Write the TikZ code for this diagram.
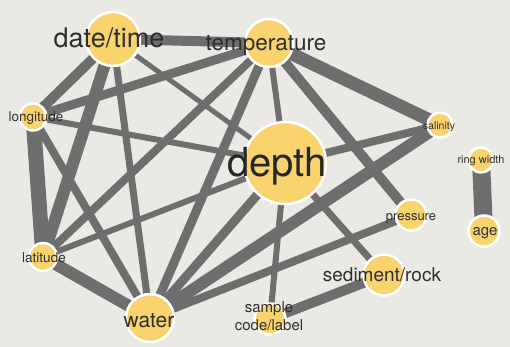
\documentclass[tikz,border=0pt]{standalone}
\usepackage{fontspec}
\setmainfont{TeX Gyre Heros}
\usetikzlibrary{backgrounds}
\definecolor{bg}{HTML}{EBE9E3}
\definecolor{edgec}{HTML}{6E6E6E}
\definecolor{nodec}{HTML}{F9D46E}
\definecolor{txt}{HTML}{2E2E2E}
\tikzset{
  vert/.style={circle, fill=nodec, draw=white, line width=2.5pt, inner sep=0pt, minimum size=#1},
  lab/.style={text=txt, inner sep=0pt, anchor=base, font=\fontsize{#1}{#1}\selectfont},
  link/.style={draw=edgec, line width=#1},
}
\begin{document}
\begin{tikzpicture}[x=1pt,y=-1pt]
\useasboundingbox (0,0) rectangle (510,347);
% circles
\node[vert=54] (dt) at (113,39) {};
\node[vert=48] (temp) at (269,43) {};
\node[vert=82] (depth) at (285,163) {};
\node[vert=27] (lon) at (33,117) {};
\node[vert=28] (lat) at (43,257) {};
\node[vert=48] (water) at (150,318) {};
\node[vert=25] (sal) at (440,125) {};
\node[vert=25] (ring) at (481,160) {};
\node[vert=31] (age) at (484,231) {};
\node[vert=31] (press) at (411,215) {};
\node[vert=41] (sed) at (384,275) {};
\node[vert=31] (sample) at (270,319) {};
% labels
\node[lab=27] (tdt) at (109,48) {date/time};
\node[lab=22.5] (ttemp) at (266,51) {temperature};
\node[lab=40, text=black!85] (tdepth) at (277,177) {depth};
\node[lab=13.5] (tlon) at (36,121.5) {longitude};
\node[lab=13.5] (tlat) at (44,262.5) {latitude};
\node[lab=21] (twater) at (149,327) {water};
\node[lab=10.5] (tsal) at (439,130) {salinity};
\node[lab=11] (tring) at (481,164) {ring width};
\node[lab=15] (tage) at (485,235) {age};
\node[lab=13] (tpress) at (411,220) {pressure};
\node[lab=19] (tsed) at (382,281) {sediment/rock};
\node[lab=15] (tsamplea) at (269,312.5) {sample};
\node[lab=15] (tsampleb) at (269,330.5) {code/label};
\begin{scope}[on background layer]
\fill[bg] (0,0) rectangle (510,347);
\draw[link=10] (dt.center) -- (temp.center);
\draw[link=10] (dt.center) -- (lon.center);
\draw[link=12] (dt.center) -- (lat.center);
\draw[link=7] (dt.center) -- (water.center);
\draw[link=5] (dt.center) -- (depth.center);
\draw[link=9] (temp.center) -- (lon.center);
\draw[link=8] (temp.center) -- (lat.center);
\draw[link=9] (temp.center) -- (water.center);
\draw[link=6] (temp.center) -- (depth.center);
\draw[link=13] (temp.center) -- (sal.center);
\draw[link=10] (temp.center) -- (press.center);
\draw[link=15] (lon.center) -- (lat.center);
\draw[link=6] (lon.center) -- (depth.center);
\draw[link=8] (lon.center) -- (water.center);
\draw[link=6] (lat.center) -- (depth.center);
\draw[link=12] (lat.center) -- (water.center);
\draw[link=9] (water.center) -- (depth.center);
\draw[link=12] (water.center) -- (sal.center);
\draw[link=8] (water.center) -- (press.center);
\draw[link=8] (depth.center) -- (sal.center);
\draw[link=7] (depth.center) -- (sed.center);
\draw[link=6] (depth.center) -- (sample.center);
\draw[link=10] (sample.center) -- (sed.center);
\draw[link=18] (ring.center) -- (age.center);
\end{scope}
\end{tikzpicture}
\end{document}
